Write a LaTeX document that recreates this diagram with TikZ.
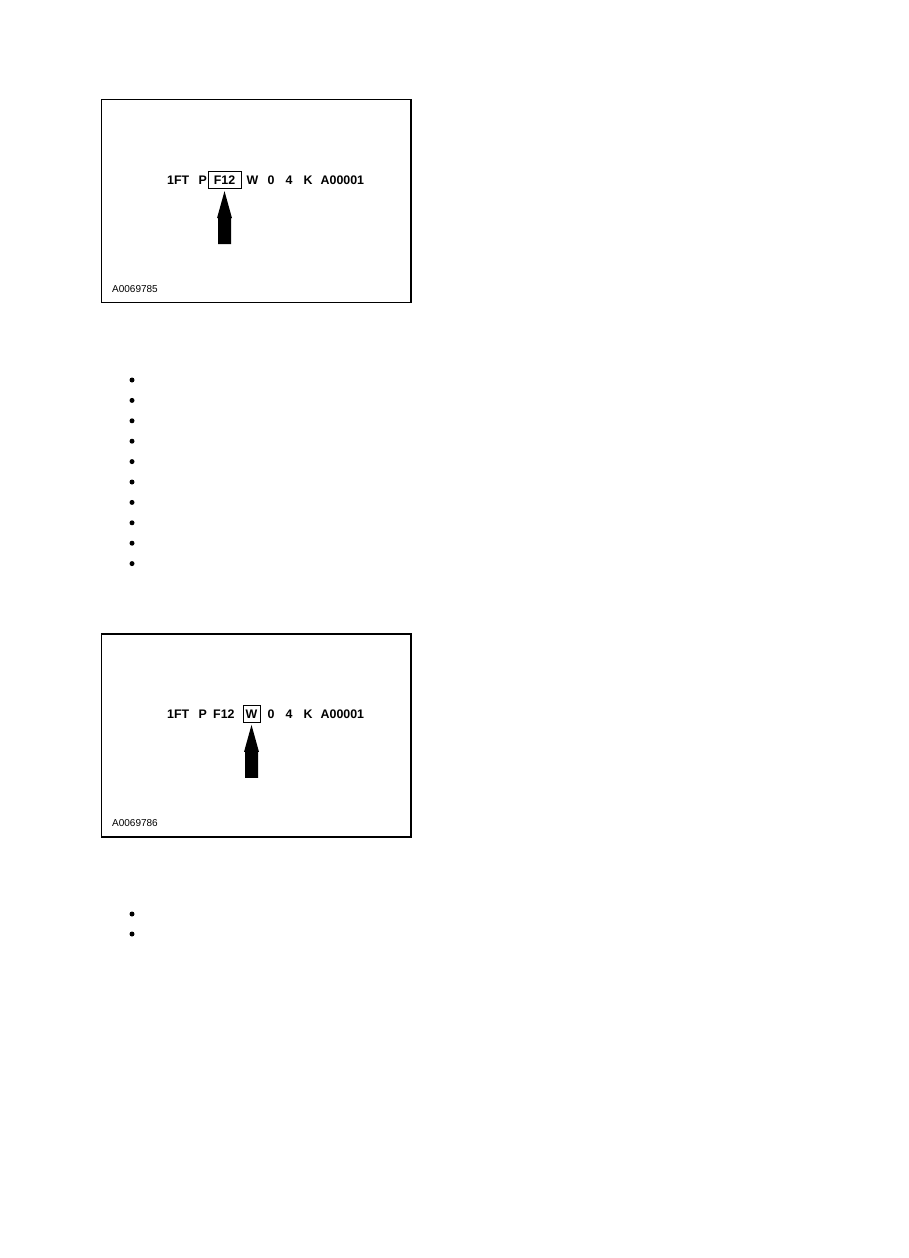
\documentclass[tikz,border=0pt]{standalone}
\usepackage{fontspec}
\setmainfont{Liberation Sans}
\usetikzlibrary{positioning}

\tikzset{
  vin/.style={anchor=base west,inner sep=0pt,font=\fontsize{12.4}{14}\selectfont\bfseries},
  vinbox/.style={draw,line width=0.9pt,minimum width=33pt,minimum height=17pt,inner sep=0pt,
    text height=8.9pt,text depth=0pt,font=\fontsize{12.4}{14}\selectfont\bfseries},
  figno/.style={anchor=base west,inner sep=0pt,font=\fontsize{10}{12}\selectfont},
  frame/.style={line width=1.3pt},
}

\begin{document}
\begin{tikzpicture}[x=1pt,y=-1pt]
\useasboundingbox (0,0) rectangle (909,1258);

% first figure
\draw[frame] (101.5,99.5) rectangle (411,302.5);
\node[vin] (a1ft) at (167,184) {1FT};
\node[vin] (ap) at (198.5,184) {P};
\node[vinbox] (af12) at (224.5,179.7) {F12};
\node[vin] (aw) at (246.5,184) {W};
\node[vin] (a0) at (267.5,184) {0};
\node[vin] (a4) at (285.5,184) {4};
\node[vin] (ak) at (303.5,184) {K};
\node[vin] (aserial) at (320.5,184) {A00001};
\fill ([yshift=-2.5pt]af12.south) -- ++(7.5,27) -- ++(-1,0) -- ++(0,26)
  -- ++(-13,0) -- ++(0,-26) -- ++(-1,0) -- cycle;
\node[figno] (afig) at (112,292) {A0069785};

\fill (132,380) circle (2.5);
\fill (132,400.4) circle (2.5);
\fill (132,420.8) circle (2.5);
\fill (132,441.2) circle (2.5);
\fill (132,461.6) circle (2.5);
\fill (132,482) circle (2.5);
\fill (132,502.4) circle (2.5);
\fill (132,522.8) circle (2.5);
\fill (132,543.2) circle (2.5);
\fill (132,563.6) circle (2.5);

% second figure
\draw[frame] (101.5,634) rectangle (411,837);
\node[vin] (b1ft) at (167,718.5) {1FT};
\node[vin] (bp) at (198.5,718.5) {P};
\node[vin] (bf12) at (213,718.5) {F12};
\node[vinbox,minimum width=17pt] (bw) at (251.5,714) {W};
\node[vin] (b0) at (267.5,718.5) {0};
\node[vin] (b4) at (285.5,718.5) {4};
\node[vin] (bk) at (303.5,718.5) {K};
\node[vin] (bserial) at (320.5,718.5) {A00001};
\fill ([yshift=-2pt]bw.south) -- ++(7.5,27) -- ++(-1,0) -- ++(0,26)
  -- ++(-13,0) -- ++(0,-26) -- ++(-1,0) -- cycle;
\node[figno] (bfig) at (112,826) {A0069786};

\fill (132,914) circle (2.5);
\fill (132,934) circle (2.5);
\end{tikzpicture}
\end{document}
